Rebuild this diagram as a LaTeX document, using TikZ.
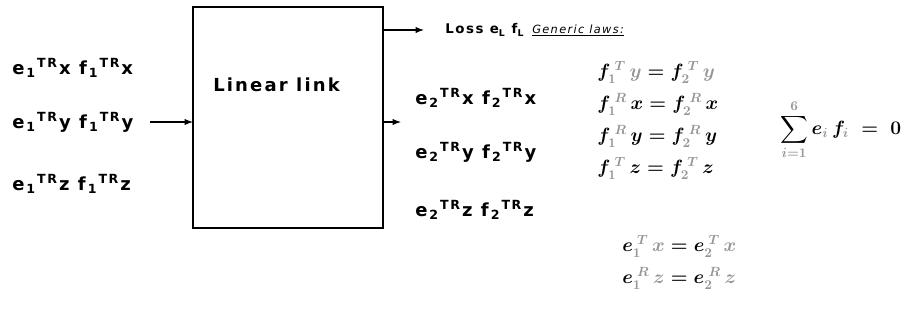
\documentclass[tikz,border=0pt]{standalone}
\usepackage{fontspec}
\setsansfont{DejaVu Sans}[LetterSpace=12]
\usepackage{amsmath}
\usetikzlibrary{arrows.meta,positioning}
\definecolor{lawgray}{RGB}{150,150,150}
\newcommand{\gs}[1]{\textcolor{lawgray}{#1}}
\newcommand{\trlbl}[3]{#1\kern1.5pt\textsubscript{#2}\kern1pt\textsuperscript{TR}\kern1pt#3}

\begin{document}
\begin{tikzpicture}[x=0.75pt,y=-0.75pt,
  font=\sffamily\bfseries\fontsize{13.5}{15}\selectfont,
  lbl/.style={anchor=west,inner sep=0pt},
  law/.style={anchor=west,inner sep=0pt,font=\normalfont\boldmath\fontsize{14}{16}\selectfont},
  arrow/.style={-{Latex[length=2.2mm]},thick}
]
\useasboundingbox (0,0) rectangle (924,320);
\node[draw,line width=1.6pt,inner sep=0pt,outer sep=0pt,anchor=north west,
  minimum width=142.5pt,minimum height=165.75pt] (link) at (193,7) {};
\node[lbl] (ltxt) at (213,85) {Linear link};

% inputs of body 1
\node[lbl] (in1x) at (12,68) {\trlbl{e}{1}{x} \trlbl{f}{1}{x}};
\node[lbl] (in1y) at (12,122) {\trlbl{e}{1}{y} \trlbl{f}{1}{y}};
\node[lbl] (in1z) at (12,184) {\trlbl{e}{1}{z} \trlbl{f}{1}{z}};
\coordinate (in) at (150,122);
\draw[arrow] (in) -- (in -| link.west);

% outputs to body 2
\coordinate (out) at (401,122);
\coordinate (loss) at (424,30);
\draw[arrow] (out -| link.east) -- (out);
\draw[arrow] (loss -| link.east) -- (loss);
\node[lbl,font=\sffamily\bfseries\fontsize{10}{12}\selectfont] (lossl) at (445,30) {Loss e\textsubscript{L} f\textsubscript{L}};
\node[lbl,font=\sffamily\mdseries\itshape\fontsize{8.5}{11}\selectfont] (laws) at (532,30) {\underline{Generic laws:}};
\node[lbl] (out2x) at (415,98) {\trlbl{e}{2}{x} \trlbl{f}{2}{x}};
\node[lbl] (out2y) at (415,152) {\trlbl{e}{2}{y} \trlbl{f}{2}{y}};
\node[lbl] (out2z) at (415,210) {\trlbl{e}{2}{z} \trlbl{f}{2}{z}};

% generic laws
\node[law] (ftyy) at (597,72) {$f_{\gs{1}}^{\;\gs{T}}\,\gs{y} = f_{\gs{2}}^{\;\gs{T}}\,\gs{y}$};
\node[law] (frxx) at (597,104) {$f_{\gs{1}}^{\;\gs{R}}\,x = f_{\gs{2}}^{\;\gs{R}}\,x$};
\node[law] (fryy) at (597,136) {$f_{\gs{1}}^{\;\gs{R}}\,y = f_{\gs{2}}^{\;\gs{R}}\,y$};
\node[law] (ftzz) at (597,168) {$f_{\gs{1}}^{\;\gs{T}}\,z = f_{\gs{2}}^{\;\gs{T}}\,z$};
\node[law] (etxx) at (622,246) {$e_{\gs{1}}^{\;\gs{T}}\,\gs{x} = e_{\gs{2}}^{\;\gs{T}}\,\gs{x}$};
\node[law] (erzz) at (622,278) {$e_{\gs{1}}^{\;\gs{R}}\,\gs{z} = e_{\gs{2}}^{\;\gs{R}}\,\gs{z}$};
\node[law] (sum) at (780,130) {$\displaystyle\sum_{\gs{i=1}}^{\gs{6}} e_{\gs{i}}\,f_{\gs{i}} \;=\; 0$};
\end{tikzpicture}
\end{document}
